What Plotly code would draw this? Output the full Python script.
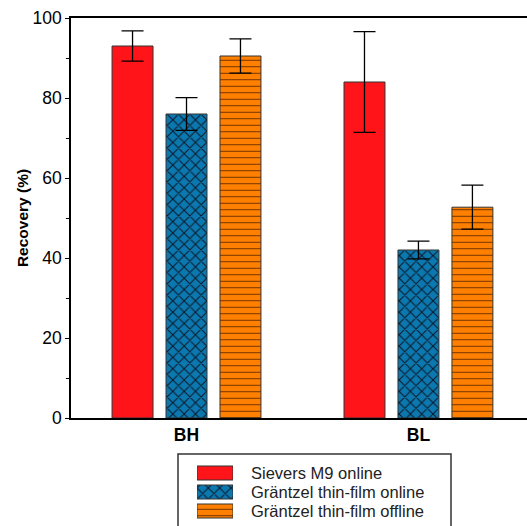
import plotly.graph_objects as go

categories = ["BH", "BL"]
series_names = ["Sievers M9 online", "Gräntzel thin-film online", "Gräntzel thin-film offline"]
sievers = [93.0, 84.0]
sievers_err = [3.8, 12.6]
grantzel_on = [76.0, 42.0]
grantzel_on_err = [4.1, 2.2]
grantzel_off = [90.5, 52.7]
grantzel_off_err = [4.3, 5.5]

values = [sievers, grantzel_on, grantzel_off]
errors = [sievers_err, grantzel_on_err, grantzel_off_err]

# ---- styling / layout constants ----
W, H = 527, 526
PL, PR, PT, PB = 71, 527, 18, 418   # plot area in pixels
fills = ["#ff1419", "#0b78b0", "#ff8000"]
patterns = [
    dict(shape=""),
    dict(shape="x", fgcolor="#0d1a2a", bgcolor="#0b78b0", size=8, solidity=0.25, fillmode="replace"),
    dict(shape="-", fgcolor="#6a2e00", bgcolor="#ff8000", size=6.5, solidity=0.15, fillmode="replace"),
]
font = "Liberation Sans, Arial, sans-serif"

pw = PR - PL
ph = H - PT  # paper height (margin b = 0)


def px_x(p):
    return (p - PL) / pw


def px_y(p):
    return (H - p) / ph


fig = go.Figure()
for name, v, e, c, p in zip(series_names, values, errors, fills, patterns):
    fig.add_trace(go.Bar(
        x=categories, y=v, name=name,
        marker=dict(color=c, line=dict(color="#333333", width=1), pattern=p),
        error_y=dict(type="data", array=e, color="black", thickness=1.3, width=11),
        showlegend=False,
    ))

# ---- hand-drawn legend (wide patterned swatches) ----
LEG_TOP = 454
leg_rows = [19, 38, 57]  # row centres below legend top, px
for name, c, p, r in zip(series_names, fills, patterns, leg_rows):
    fig.add_trace(go.Bar(
        x=[1], y=[r], base=[0], orientation="h", width=14,
        marker=dict(color=c, line=dict(color="#333333", width=1), pattern=p),
        xaxis="x2", yaxis="y2", showlegend=False, hoverinfo="skip",
    ))
    fig.add_annotation(
        x=px_x(249), y=px_y(LEG_TOP + r), xref="paper", yref="paper",
        text=name, showarrow=False, xanchor="left", yanchor="middle",
        font=dict(family=font, size=16.5, color="#222222"),
    )

fig.add_shape(
    type="rect", xref="paper", yref="paper",
    x0=px_x(178), x1=px_x(451), y0=px_y(H + 10), y1=px_y(LEG_TOP),
    line=dict(color="#333333", width=1.5), fillcolor="rgba(0,0,0,0)", layer="below",
)

fig.update_layout(
    width=W, height=H,
    margin=dict(l=PL, r=W - PR, t=PT, b=0, autoexpand=False),
    plot_bgcolor="white", paper_bgcolor="white",
    barmode="group", bargap=0.302, bargroupgap=0.241,
    font=dict(family=font, color="black", size=16),
    showlegend=False,
    xaxis=dict(
        range=[-0.498, 1.468], showline=True, linecolor="black", linewidth=1.5,
        mirror=True, ticks="", showgrid=False, anchor="y", automargin=False,
        tickfont=dict(family=font, size=17.5, color="black", weight="bold"),
    ),
    yaxis=dict(
        domain=[px_y(PB), 1], automargin=False,
        range=[0, 100], tickvals=[0, 20, 40, 60, 80, 100],
        showline=True, linecolor="black", linewidth=1.5,
        ticks="outside", ticklen=4, tickcolor="black", tickwidth=1,
        minor=dict(dtick=10, ticks="outside", ticklen=3, tickcolor="black"),
        showgrid=False, zeroline=False,
        tickfont=dict(family=font, size=17.5, color="black"),
        title=dict(text="Recovery (%)", font=dict(family=font, size=15.5, color="black", weight="bold"), standoff=0),
    ),
    xaxis2=dict(domain=[px_x(197), px_x(233)], range=[0, 1], visible=False, anchor="y2", automargin=False),
    yaxis2=dict(domain=[0, px_y(LEG_TOP)], range=[H - LEG_TOP, 0], visible=False, anchor="x2", automargin=False),
)

fig.write_html("out.html")
